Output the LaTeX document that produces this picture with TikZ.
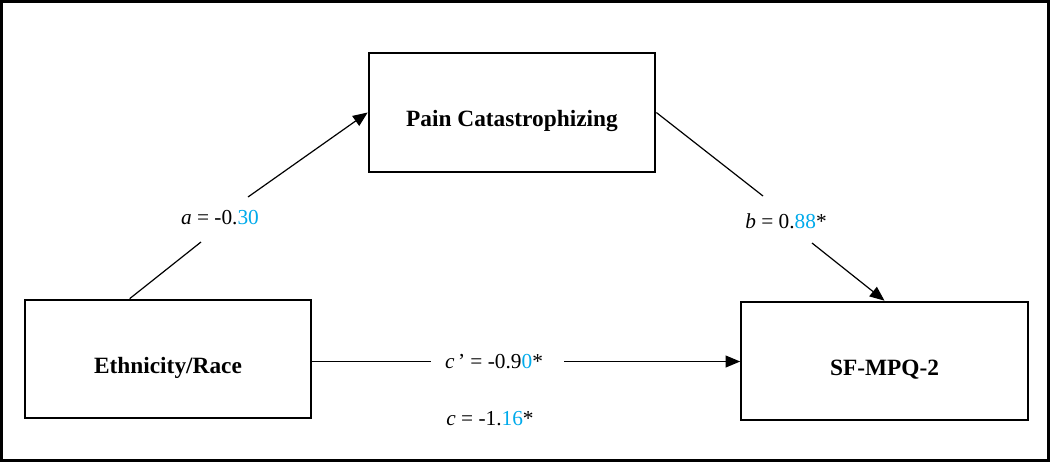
\documentclass[tikz,border=0pt]{standalone}
\usepackage{fontspec}
\setmainfont{Liberation Serif}
\usetikzlibrary{arrows.meta,calc}
\definecolor{numblue}{RGB}{0,170,235}
\newcommand{\bluedig}[1]{\textcolor{numblue}{#1}}

\begin{document}
\begin{tikzpicture}[x=0.75pt,y=0.75pt,yscale=-1,xscale=1,
  varbox/.style={draw,line width=1.5pt,inner sep=0pt,minimum width=215pt,minimum height=89pt,
    font=\fontsize{17.5}{20}\selectfont\bfseries,text height=23pt,text depth=2pt},
  pathlab/.style={inner sep=0.75pt,font=\fontsize{16}{19}\selectfont},
  conn/.style={line width=0.9pt},
  arr/.style={conn,-{Triangle[length=11pt,width=9pt]}}]
\useasboundingbox (0,0) rectangle (1050,462);
%Outer frame
\draw [line width=1.8pt] (1.5,1.5) rectangle (1048.5,460.5);

% Boxes
\node [varbox] (pain) at (512,112.5) {Pain Catastrophizing};
\node [varbox] (eth) at (168,359) {Ethnicity/Race};
\node [varbox] (sf) at (884.5,361) {SF-MPQ-2};

% Text Node
\node [pathlab] (alab) at (220,218) {\textit{a} = -0.\bluedig{30}};
% Text Node
\node [pathlab] (blab) at (786,221) {\textit{b} = 0.\bluedig{88}*};
% Text Node
\node [pathlab] (cplab) at (494,362) {\textit{c}\,’ = -0.9\bluedig{0}*};
% Text Node
\node [pathlab] (clab) at (490,419) {\textit{c} = -1.\bluedig{16}*};

% segment ends round the labels
\coordinate (a1) at (201,242);
\coordinate (a2) at (248,197);
\coordinate (b1) at (763,196);
\coordinate (b2) at (812,243);
\coordinate (c1) at (431,361.5);
\coordinate (c2) at (564,361.5);

%Straight Lines
\draw [conn] ($(eth.north west)+(106,0)$) -- (a1);
\draw [arr] (a2) -- (pain.west);
%Straight Lines
\draw [conn] (pain.east) -- (b1);
\draw [arr] (b2) -- (sf.north);
%Straight Lines
\draw [conn] (eth.east |- c1) -- (c1);
\draw [arr] (c2) -- (sf.west |- c2);

\end{tikzpicture}
\end{document}
